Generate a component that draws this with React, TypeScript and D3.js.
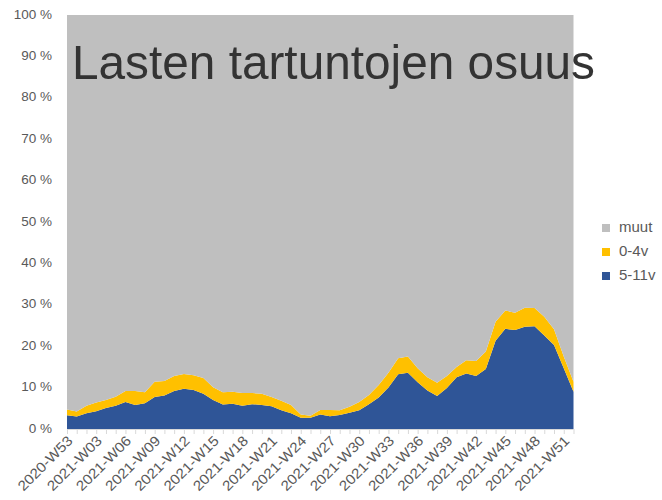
import React from "react";
import * as d3 from "d3";

const weeks: string[] = [
  "2020-W53",
  ...d3.range(1, 53).map((w) => `2021-W${String(w).padStart(2, "0")}`),
];

// 5-11v share (%)
const kids511: number[] = [
  3.3, 3.0, 3.8, 4.3, 5.1, 5.6, 6.5, 5.8, 6.2, 7.7, 8.1, 9.2, 9.7, 9.4, 8.5, 7.0,
  5.9, 6.1, 5.6, 6.0, 5.8, 5.5, 4.5, 3.8, 2.7, 2.7, 3.5, 3.1, 3.4, 3.9, 4.5, 6.0,
  7.6, 10.0, 13.2, 13.6, 11.3, 9.3, 8.0, 9.9, 12.5, 13.4, 12.8, 14.5, 21.3, 24.2,
  23.9, 24.7, 24.8, 22.6, 20.3, 14.7, 9.0,
];
// cumulative top of 0-4v (%)
const top04: number[] = [
  4.7, 4.2, 5.6, 6.4, 7.0, 7.8, 9.2, 9.2, 8.9, 11.4, 11.6, 12.8, 13.3, 13.0, 12.3,
  10.1, 8.9, 9.0, 8.7, 8.7, 8.5, 7.7, 6.8, 5.8, 3.5, 3.2, 4.6, 4.6, 4.5, 5.4, 6.5,
  8.2, 10.6, 13.6, 17.1, 17.5, 14.7, 12.5, 11.2, 12.8, 15.0, 16.6, 16.4, 18.7, 25.9,
  28.6, 28.1, 29.3, 29.2, 27.1, 24.1, 17.5, 11.4,
];
const kids04: number[] = top04.map((t, i) => +(t - kids511[i]).toFixed(1));
const muut: number[] = top04.map((t) => +(100 - t).toFixed(1));

const seriesKeys = ["kids511", "kids04", "muut"];
const seriesNames = ["5-11v", "0-4v", "muut"];
const seriesColors = ["#2F5597", "#FFC000", "#BFBFBF"];
const yTicks: number[] = [0, 10, 20, 30, 40, 50, 60, 70, 80, 90, 100];
const titleText = "Lasten tartuntojen osuus";

export default function App() {
  const W = 662,
    H = 500;
  const left = 67,
    right = 573.5,
    top = 15,
    bottom = 429;

  const rows = weeks.map((w, i) => ({
    week: w,
    kids511: kids511[i],
    kids04: kids04[i],
    muut: muut[i],
  }));

  const x = d3.scalePoint<string>().domain(weeks).range([left, right]);
  const y = d3.scaleLinear().domain([0, 100]).range([bottom, top]);
  const stack = d3.stack<any>().keys(seriesKeys);
  const layers = stack(rows);
  const area = d3
    .area<any>()
    .x((d) => x(d.data.week) as number)
    .y0((d) => y(d[0]))
    .y1((d) => y(Math.min(d[1], 100)));

  const labelIdx = d3.range(0, weeks.length, 3);
  const legendOrder = [2, 1, 0];
  const font = "'Liberation Sans', Arial, sans-serif";

  return (
    <svg
      width={W}
      height={H}
      style={{ position: "absolute", left: 0, top: 0, fontFamily: font }}
    >
      <rect width={W} height={H} fill="#fff" />
      {layers.map((layer, k) => (
        <path key={k} d={area(layer) || ""} fill={seriesColors[k]} />
      ))}
      {/* x axis */}
      <line x1={left} x2={right} y1={bottom + 0.5} y2={bottom + 0.5} stroke="#D9D9D9" />
      {weeks.map((w) => (
        <line
          key={w}
          x1={(x(w) as number) + 0.5}
          x2={(x(w) as number) + 0.5}
          y1={bottom}
          y2={bottom + 5}
          stroke="#D9D9D9"
        />
      ))}
      {labelIdx.map((i) => {
        const px = x(weeks[i]) as number;
        return (
          <text
            key={i}
            transform={`translate(${px + 4},${bottom + 10}) rotate(-45)`}
            textAnchor="end"
            dominantBaseline="middle"
            fontSize={14}
            textLength={71}
            lengthAdjust="spacingAndGlyphs"
            fill="#595959"
          >
            {weeks[i]}
          </text>
        );
      })}
      {/* y axis labels */}
      {yTicks.map((t) => (
        <text
          key={t}
          x={52}
          y={y(t)}
          textAnchor="end"
          dominantBaseline="middle"
          fontSize={13.5}
          fill="#595959"
        >
          {`${t} %`}
        </text>
      ))}
      {/* title */}
      <text
        x={72}
        y={79}
        fontSize={49}
        textLength={523}
        lengthAdjust="spacingAndGlyphs"
        fill="#333333"
      >
        {titleText}
      </text>
      {/* legend */}
      {legendOrder.map((k, j) => {
        const cy = 228 + j * 24;
        return (
          <g key={k}>
            <rect x={602} y={cy - 4} width={8} height={8} fill={seriesColors[k]} />
            <text
              x={619}
              y={cy}
              dominantBaseline="middle"
              fontSize={15}
              fill="#595959"
            >
              {seriesNames[k]}
            </text>
          </g>
        );
      })}
    </svg>
  );
}
